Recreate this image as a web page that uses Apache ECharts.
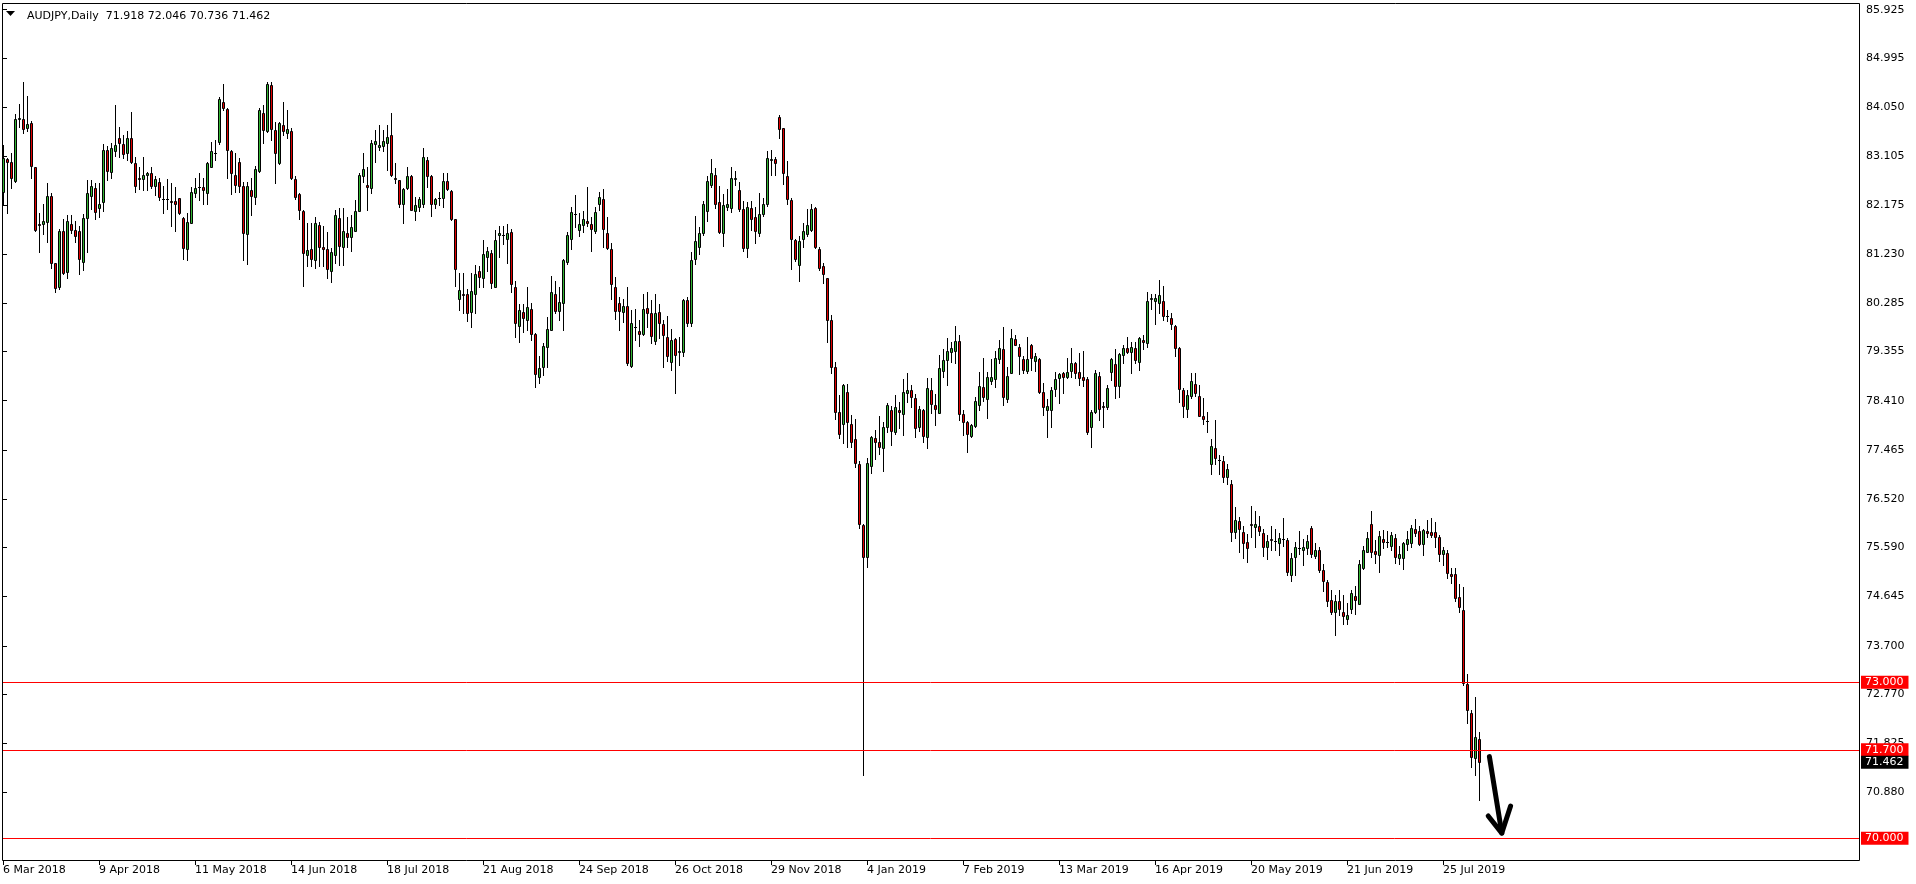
<!DOCTYPE html>
<html><head><meta charset="utf-8">
<script src="https://cdn.jsdelivr.net/npm/echarts@6/dist/echarts.min.js"></script>
<style>html,body{margin:0;padding:0;background:#fff}#c{width:1916px;height:884px}</style>
</head><body><div id="c"></div>
<script>
// ---- DATA (AUDJPY daily) ----
const openP = [
82.43,83.06,82.99,82.64,83.82,83.82,83.66,83.74,82.90,81.80,
81.81,81.85,82.35,81.05,80.60,81.67,80.88,81.80,81.70,81.67,
81.08,81.92,82.35,82.50,82.12,82.22,83.23,82.81,83.20,83.45,
83.34,83.17,83.45,82.97,82.70,82.67,82.74,82.78,82.53,82.62,
82.29,82.28,82.24,82.24,82.30,81.93,81.32,81.83,82.40,82.51,
82.51,82.40,82.91,83.18,83.38,84.16,84.01,83.21,82.75,82.99,
82.54,81.61,82.46,82.33,82.83,83.94,83.60,84.47,83.61,82.97,
83.71,83.56,83.60,82.67,82.38,82.06,81.22,81.32,81.12,81.79,
81.36,81.32,80.90,81.21,81.92,81.36,81.63,81.55,81.68,82.06,
82.72,82.56,82.49,83.34,83.28,83.30,83.36,83.51,82.69,82.65,
82.19,82.49,82.73,82.06,82.14,82.20,83.04,82.73,82.19,82.30,
82.31,82.63,82.44,81.90,80.36,80.46,80.46,80.12,80.47,80.90,
80.76,81.17,81.24,80.60,81.60,81.60,81.51,81.65,80.59,79.85,
80.11,79.97,80.17,79.70,78.86,79.05,79.44,79.77,80.47,80.13,
80.28,81.08,81.51,82.00,81.70,81.78,81.87,81.81,81.68,82.19,
82.29,81.63,81.33,80.59,80.28,80.11,80.23,79.08,79.83,79.75,
79.69,80.19,80.09,79.56,80.11,79.88,79.64,79.15,79.59,79.34,
79.34,80.35,79.91,81.13,81.37,81.63,82.06,82.56,82.75,82.22,
81.63,82.14,82.11,82.67,82.46,82.10,81.34,82.11,81.95,81.63,
82.00,82.20,83.04,83.05,83.86,83.65,82.73,82.27,81.50,81.02,
81.51,81.61,81.69,82.12,81.33,81.00,80.76,79.96,79.05,78.19,
77.97,78.58,77.97,77.67,77.19,76.02,75.40,77.16,77.69,77.62,
77.51,77.90,78.24,77.80,78.24,78.15,78.56,78.62,78.47,77.90,
78.24,77.72,78.62,78.33,78.18,78.99,79.19,79.35,79.37,79.56,
78.15,78.00,77.74,77.93,78.33,78.67,78.45,78.79,78.83,79.21,
79.40,78.45,78.95,79.59,79.44,79.21,78.99,79.48,79.18,79.22,
78.58,78.24,78.24,78.63,78.84,78.94,78.87,78.99,79.13,78.96,
78.86,78.82,77.90,78.20,78.89,78.31,78.28,78.97,79.11,78.70,
79.28,79.42,79.35,79.42,79.16,79.58,79.51,80.37,80.33,80.28,
80.33,80.04,80.00,79.85,79.43,78.62,78.26,78.50,78.74,78.50,
78.12,78.02,77.20,77.50,77.27,77.25,76.95,76.81,75.88,76.10,
75.88,75.69,76.04,75.99,76.01,75.86,75.60,75.75,75.71,75.68,
75.76,75.73,75.07,75.40,75.58,75.55,75.58,75.97,75.43,75.54,
75.15,74.92,74.58,74.35,74.56,74.34,74.22,74.40,74.65,74.51,
75.19,75.51,76.04,75.52,75.44,75.75,75.70,75.62,75.78,75.39,
75.39,75.65,75.67,75.94,75.90,75.65,75.90,75.88,75.88,75.80,
75.46,75.49,75.08,75.08,74.63,74.38,72.96,72.40,71.55,71.918];
const highP = [
83.33,83.07,83.18,83.92,84.11,84.53,84.27,83.79,82.91,82.01,
82.20,82.59,82.40,81.06,81.72,81.90,81.98,81.98,81.86,81.76,
81.99,82.65,82.65,82.59,82.59,83.35,83.31,83.36,84.10,83.67,
83.52,83.60,83.95,83.10,82.90,83.10,82.81,82.91,82.73,82.70,
82.54,82.67,82.59,82.51,82.31,81.95,82.01,82.52,82.69,82.78,
82.70,82.99,83.39,83.42,84.24,84.50,84.04,83.22,83.17,83.07,
82.62,82.62,82.69,82.92,84.03,84.10,84.53,84.54,83.77,83.77,
84.16,84.00,83.65,82.72,82.40,82.08,81.82,81.82,81.95,81.85,
81.76,81.66,81.34,82.08,82.11,82.11,81.95,81.98,82.27,82.78,
83.17,82.91,83.42,83.61,83.71,83.61,83.71,83.94,82.97,82.66,
82.49,82.90,82.75,82.33,82.33,83.26,83.10,82.75,82.30,82.43,
82.78,82.78,82.46,81.91,80.86,80.86,80.55,80.86,81.02,81.00,
81.50,81.37,81.31,81.70,81.76,81.77,81.80,81.72,80.71,80.27,
80.27,80.59,80.29,79.72,79.27,79.52,80.01,80.81,80.71,80.59,
81.13,81.66,82.13,82.37,82.01,82.06,82.51,81.95,82.14,82.42,
82.47,81.94,81.44,80.78,80.41,80.36,80.59,80.15,80.17,79.97,
80.47,80.49,80.35,80.47,80.27,79.97,80.04,79.79,79.61,79.63,
80.37,80.41,81.26,81.96,81.74,82.24,82.72,83.05,82.88,82.53,
82.38,82.48,82.91,82.83,82.62,82.24,82.22,82.24,82.13,82.40,
82.30,83.21,83.23,83.10,83.90,83.66,83.02,82.30,81.51,81.58,
81.83,82.09,82.20,82.14,81.37,81.05,80.77,80.05,79.15,78.52,
78.74,78.73,78.14,78.05,77.25,76.04,77.30,77.73,77.85,78.11,
78.00,78.36,78.30,78.52,78.38,78.82,78.95,78.71,78.54,78.30,
78.26,78.85,78.85,78.54,79.29,79.40,79.61,79.54,79.85,79.67,
78.23,78.02,77.96,78.49,78.97,79.24,78.97,79.21,79.37,79.58,
79.83,79.05,79.78,79.67,79.50,79.27,79.64,79.50,79.32,79.24,
78.76,78.45,78.68,78.97,78.95,78.97,79.24,79.42,79.16,79.32,
79.37,78.87,78.24,79.00,78.97,78.39,78.71,79.24,79.40,79.33,
79.48,79.63,79.53,79.53,79.63,79.67,80.49,80.46,80.46,80.73,
80.62,80.15,80.09,79.86,79.45,78.65,78.62,78.95,78.94,78.71,
78.46,78.20,77.67,78.04,77.37,77.35,77.20,76.88,76.36,76.18,
76.00,75.85,76.39,76.30,76.19,75.94,75.83,76.00,75.94,75.86,
76.15,75.78,75.49,75.70,75.91,75.76,75.83,76.00,75.68,75.60,
75.28,74.96,74.77,74.67,74.77,74.67,74.53,74.78,74.85,75.35,
75.62,75.89,76.29,75.74,75.90,75.92,75.91,75.89,75.85,75.62,
75.70,75.91,76.02,76.13,76.00,75.94,76.12,76.15,76.08,75.83,
75.60,75.54,75.19,75.19,74.88,74.83,73.15,72.46,72.71,72.046];
const lowP = [
82.17,82.01,82.50,82.62,83.68,83.55,83.60,82.70,81.68,81.26,
81.61,81.47,80.96,80.49,80.55,80.85,80.76,81.63,81.47,80.84,
80.92,81.26,82.10,81.90,81.95,82.05,82.65,82.70,83.12,83.10,
83.07,83.04,82.97,82.43,82.47,82.46,82.46,82.49,82.36,82.26,
82.02,82.09,81.76,81.68,82.00,81.13,81.12,81.82,82.33,82.27,
82.20,82.19,82.90,83.04,83.35,83.99,82.70,82.38,82.43,82.43,
81.12,81.04,81.98,82.20,82.81,83.36,83.58,83.42,82.59,82.96,
83.52,83.45,82.68,82.28,81.90,80.62,80.99,80.99,80.97,80.99,
80.99,80.76,80.70,81.05,81.02,81.02,81.37,81.28,81.67,82.05,
82.62,82.08,82.40,82.99,83.23,83.20,82.85,82.73,82.59,82.14,
81.82,82.48,82.07,81.88,82.05,82.14,82.52,81.96,82.11,82.17,
82.14,82.46,81.88,80.62,80.15,80.10,79.95,79.83,80.10,80.59,
80.59,80.91,80.57,80.59,81.18,81.42,81.05,80.49,79.63,79.53,
79.74,79.77,79.58,78.68,78.76,78.90,79.06,79.76,80.09,79.96,
79.77,81.03,81.32,81.74,81.58,81.66,81.77,81.29,81.64,82.08,
81.37,81.32,80.37,79.98,79.77,79.92,79.10,79.06,79.58,79.47,
79.67,79.83,79.51,79.50,79.61,79.05,79.18,79.00,78.56,79.10,
79.26,79.85,79.85,81.04,81.23,81.60,81.87,82.51,82.11,81.64,
81.39,82.08,82.04,82.56,82.06,81.28,81.18,81.69,81.44,81.58,
81.96,82.16,82.74,82.74,83.45,82.58,82.19,80.94,81.10,80.72,
81.36,81.58,81.68,81.34,80.92,80.67,79.54,78.95,78.05,77.69,
77.60,77.53,77.53,77.14,75.97,71.22,75.22,77.03,77.29,77.39,
77.06,77.81,77.56,77.77,77.88,77.75,78.39,78.28,77.72,77.83,
77.62,77.51,78.18,77.95,78.17,78.87,78.71,79.16,79.14,78.04,
77.75,77.43,77.72,77.91,78.24,78.41,78.08,78.74,78.68,79.14,
78.33,78.39,78.94,79.48,78.92,78.95,78.94,79.01,78.98,78.56,
78.13,77.72,77.91,78.50,78.37,78.56,78.84,78.87,78.84,78.71,
78.69,77.78,77.53,78.17,78.04,77.91,78.26,78.80,78.47,78.49,
79.14,79.32,78.95,79.14,79.00,79.40,79.45,80.17,79.89,80.10,
79.96,79.95,79.78,79.26,78.39,78.10,78.10,78.47,78.50,78.11,
77.97,77.81,77.00,77.20,77.00,76.85,76.80,75.72,75.78,75.51,
75.39,75.31,75.80,75.60,75.83,75.43,75.37,75.54,75.54,75.44,
75.62,75.06,74.95,75.06,75.47,75.25,75.46,75.41,75.39,75.12,
74.76,74.47,74.32,73.90,74.29,74.12,74.12,74.33,74.31,74.50,
75.17,75.50,75.40,75.30,75.12,75.58,75.60,75.54,75.30,75.28,
75.17,75.54,75.59,75.81,75.63,75.44,75.80,75.80,75.60,75.33,
75.25,75.01,74.90,74.56,74.35,72.94,72.21,71.37,71.21,70.736];
const closeP = [
83.07,83.00,82.69,83.82,83.84,83.63,83.72,82.93,81.70,81.79,
81.86,82.35,81.05,80.58,81.67,80.87,81.86,81.70,81.58,81.14,
81.92,82.40,82.53,82.03,82.20,83.23,82.83,83.26,83.33,83.36,
83.15,83.45,82.99,82.54,82.67,82.74,82.78,82.54,82.67,82.32,
82.28,82.29,82.23,82.20,82.01,81.34,81.85,82.42,82.49,82.51,
82.46,82.97,83.21,83.18,84.21,84.03,83.23,82.78,82.56,82.54,
81.64,82.54,82.35,82.86,84.00,83.61,84.50,83.63,83.18,83.74,
83.60,83.63,82.70,82.33,82.08,81.24,81.31,81.13,81.82,81.36,
81.32,80.94,81.26,81.98,81.39,81.67,81.55,81.74,82.06,82.75,
82.86,82.51,83.36,83.40,83.33,83.40,83.47,82.75,82.68,82.19,
82.47,82.73,82.08,82.17,82.29,83.09,82.72,82.20,82.28,82.30,
82.63,82.47,81.91,80.94,80.54,80.45,80.10,80.51,80.85,80.78,
81.23,81.29,80.67,81.50,81.63,81.59,81.63,80.65,79.90,80.15,
80.00,80.22,79.69,78.92,79.03,79.46,79.78,80.49,80.14,80.30,
81.12,81.60,82.03,82.00,81.80,81.90,81.82,81.72,82.03,82.33,
81.72,81.35,80.65,80.14,80.14,80.23,79.13,79.90,79.83,79.70,
80.17,80.09,79.65,80.09,79.90,79.67,79.26,79.58,79.29,79.37,
80.35,79.91,81.12,81.48,81.63,82.20,82.63,82.79,82.20,81.66,
82.17,82.19,82.69,82.70,82.09,81.35,82.13,81.90,81.68,82.00,
82.20,83.07,83.05,82.97,83.63,82.78,82.28,81.51,81.13,81.48,
81.67,81.78,82.09,81.36,80.97,80.85,79.96,79.05,78.19,77.78,
78.71,78.01,77.61,77.22,76.05,75.40,77.22,77.71,77.62,77.53,
77.90,78.33,77.83,78.28,78.20,78.57,78.62,78.49,77.88,78.26,
77.74,78.65,78.34,78.26,79.03,79.19,79.37,79.42,79.56,78.15,
78.01,77.77,77.94,78.40,78.69,78.49,78.86,78.86,79.24,79.42,
78.49,78.88,79.61,79.49,79.26,79.01,79.21,79.24,79.27,78.58,
78.28,78.30,78.62,78.82,78.92,78.87,78.96,79.13,78.95,78.84,
78.81,77.81,78.20,78.94,78.26,78.28,78.65,79.21,78.70,79.30,
79.42,79.35,79.45,79.19,79.61,79.53,80.33,80.38,80.38,80.44,
80.03,80.04,79.88,79.43,78.63,78.31,78.52,78.79,78.56,78.12,
78.05,78.02,77.54,77.30,77.27,76.95,77.10,75.89,76.12,75.94,
75.68,75.57,76.03,76.05,75.91,75.60,75.71,75.74,75.71,75.78,
75.76,75.11,75.38,75.59,75.58,75.60,75.71,75.47,75.54,75.15,
74.95,74.56,74.35,74.56,74.40,74.28,74.30,74.71,74.58,75.28,
75.54,75.78,75.51,75.46,75.81,75.70,75.70,75.83,75.41,75.47,
75.68,75.75,75.96,75.87,75.65,75.92,75.86,75.83,75.80,75.47,
75.54,75.09,75.05,74.62,74.45,72.99,72.46,71.56,71.94,71.462];

const xTickIndex  = [0,24,48,72,96,120,144,168,192,216,240,264,288,312,336,360];
const xTickLabels = ['6 Mar 2018','9 Apr 2018','11 May 2018','14 Jun 2018','18 Jul 2018','21 Aug 2018',
  '24 Sep 2018','26 Oct 2018','29 Nov 2018','4 Jan 2019','7 Feb 2019','13 Mar 2019','16 Apr 2019',
  '20 May 2019','21 Jun 2019','25 Jul 2019'];
const yTickValues = [85.925,84.995,84.050,83.105,82.175,81.230,80.285,79.355,78.410,77.465,
  76.520,75.590,74.645,73.700,72.770,71.825,70.880];
const levelLines = [73.000, 71.700, 70.000];
const lastPrice = 71.462;
const symbolTitle = 'AUDJPY,Daily  71.918 72.046 70.736 71.462';
const arrowShaft = [[371.6, 71.57], [374.7, 70.10]];
const arrowHead  = [[371.3, 70.43], [374.7, 70.10], [376.9, 70.62]];

// ---- CHART ----
const GREEN = '#32B432', RED = '#E00000';
const FONT = 'DejaVu Sans';
const candleData = openP.map((o, i) => [i, o, closeP[i], lowP[i], highP[i]]);

function renderCandle(params, api) {
  const i = api.value(0), o = api.value(1), c = api.value(2), l = api.value(3), h = api.value(4);
  const pO = api.coord([i, o]), pC = api.coord([i, c]), pL = api.coord([i, l]), pH = api.coord([i, h]);
  const cx = Math.floor(pO[0] + 1e-6) + 0.5;
  const yo = Math.round(pO[1]), yc = Math.round(pC[1]);
  const yl = Math.round(pL[1]), yh = Math.round(pH[1]);
  const top = Math.min(yo, yc), bot = Math.max(yo, yc);
  const children = [{ type: 'line', shape: { x1: cx, y1: yh, x2: cx, y2: yl + 1 },
    style: { stroke: '#000', lineWidth: 1 } }];
  if (bot - top < 1) {
    children.push({ type: 'line', shape: { x1: cx - 1.5, y1: top + 0.5, x2: cx + 1.5, y2: top + 0.5 },
      style: { stroke: '#000', lineWidth: 1 } });
  } else {
    children.push({ type: 'rect', shape: { x: cx - 1, y: top + 0.5, width: 2, height: bot - top },
      style: { fill: c >= o ? GREEN : RED, stroke: '#000', lineWidth: 1 } });
  }
  return { type: 'group', children };
}

function renderArrow(params, api) {
  const s = arrowShaft.map(p => api.coord(p));
  const hd = arrowHead.map(p => api.coord(p));
  const st = { stroke: '#000', lineWidth: 5, lineCap: 'round', lineJoin: 'round', fill: null };
  return { type: 'group', children: [
    { type: 'polyline', shape: { points: s }, style: st },
    { type: 'polyline', shape: { points: hd }, style: st }
  ] };
}

const levelLabel = (txt, bg) => ({ show: true, position: 'end', distance: 2, formatter: txt,
  backgroundColor: bg, color: '#fff', fontFamily: FONT, fontSize: 11, lineHeight: 12, padding: [1, 5, 0, 4] });

const chart = echarts.init(document.getElementById('c'), null, { renderer: 'canvas' });
chart.setOption({
  animation: false,
  backgroundColor: '#fff',
  grid: { left: 2, top: 3, width: 1857, height: 857, show: false, containLabel: false },
  title: { text: symbolTitle, left: 22, top: 6, textStyle: { fontFamily: FONT, fontSize: 11, fontWeight: 'normal', color: '#000' } },
  graphic: [
    { type: 'rect', shape: { x: 2.5, y: 3.5, width: 1857, height: 857 }, style: { fill: null, stroke: '#000', lineWidth: 1 }, silent: true, z: 10 },
    { type: 'polygon', shape: { points: [[6, 11], [15, 11], [10.5, 16]] }, style: { fill: '#000' }, silent: true }
  ],
  xAxis: {
    type: 'value', min: -0.25, max: 464, position: 'bottom',
    axisLine: { show: false }, splitLine: { show: false },
    axisTick: { show: true, length: 5, lineStyle: { color: '#000' }, customValues: xTickIndex },
    axisLabel: { show: true, customValues: xTickIndex, align: 'left', margin: 5, color: '#000',
      fontFamily: FONT, fontSize: 11,
      formatter: v => { const k = xTickIndex.indexOf(Math.round(v)); return k >= 0 ? xTickLabels[k] : ''; } }
  },
  yAxis: {
    type: 'value', min: 69.583, max: 86.054, position: 'right', scale: true,
    axisLine: { show: false }, splitLine: { show: false },
    axisTick: { show: true, length: 4, lineStyle: { color: '#000' }, customValues: yTickValues },
    axisLabel: { show: true, customValues: yTickValues, margin: 7, color: '#000', fontFamily: FONT, fontSize: 11,
      formatter: v => v.toFixed(3) }
  },
  series: [
    {
      type: 'custom', name: 'AUDJPY', renderItem: renderCandle, data: candleData,
      encode: { x: 0, y: [1, 2, 3, 4] }, silent: true, clip: false,
      markLine: {
        silent: true, symbol: ['none', 'none'], animation: false,
        lineStyle: { color: '#FF0000', width: 1, type: 'solid' },
        data: levelLines.map(v => ({ yAxis: v, label: levelLabel(v.toFixed(3), '#FF0000') }))
          .concat([{ yAxis: lastPrice, lineStyle: { color: 'rgba(0,0,0,0)', width: 1 }, label: levelLabel(lastPrice.toFixed(3), '#000') }])
      }
    },
    { type: 'custom', name: 'arrow', renderItem: renderArrow, data: [[0, 70]], silent: true, clip: false, z: 5 }
  ]
});
</script>
</body></html>
